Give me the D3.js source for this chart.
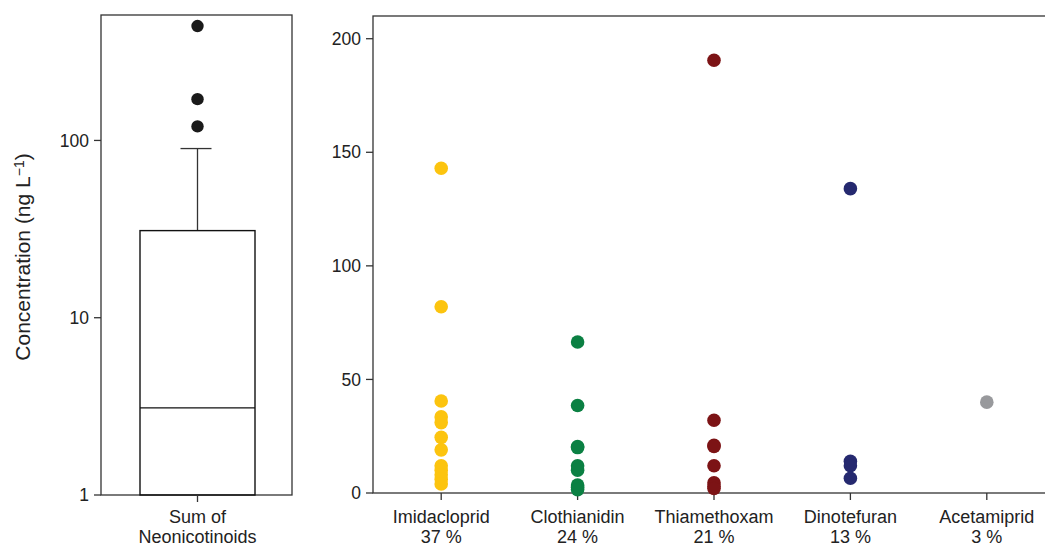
<!DOCTYPE html>
<html>
<head>
<meta charset="utf-8">
<script src="https://cdn.jsdelivr.net/npm/d3@7"></script>
<style>
  body { margin: 0; background: #fff; }
  text { font-family: "Liberation Sans", Arial, sans-serif; fill: #222; }
</style>
</head>
<body>
<script>
// boxplot of summed neonicotinoids (log scale)
const boxStats = {q1: 1, median: 3.1, q3: 31, whiskerHigh: 90};
const boxOutliers = [442, 171, 120];
const logTicks = [1, 10, 100];

// individual compounds
const compounds = ['Imidacloprid', 'Clothianidin', 'Thiamethoxam', 'Dinotefuran', 'Acetamiprid'];
const detectPct = ['37 %', '24 %', '21 %', '13 %', '3 %'];
const colours = ['#fcc40f', '#0b8043', '#7c1315', '#25296f', '#98999c'];
const imidacloprid = [143, 82, 40.5, 33.5, 31, 24.5, 19, 12, 10, 8, 6, 4];
const clothianidin = [66.5, 38.5, 20.5, 20, 12, 10, 3.5, 2.5, 1.5];
const thiamethoxam = [190.5, 32, 21, 20.5, 12, 4.5, 3, 2];
const dinotefuran = [134, 14, 12, 6.5];
const acetamiprid = [40];
const linTicks = [0, 50, 100, 150, 200];

const W = 1045, H = 546;
const svg = d3.select('body').append('svg').attr('width', W).attr('height', H);
const axisCol = '#333';
const tickFont = '17.5px', catFont = '18px';

// ---- left panel ----
const L = {x0: 101, x1: 292, y0: 15, y1: 495};
const yLog = d3.scaleLog().domain([1, 510]).range([L.y1, L.y0]);
const left = svg.append('g');
left.append('rect').attr('x', L.x0).attr('y', L.y0).attr('width', L.x1 - L.x0).attr('height', L.y1 - L.y0)
    .attr('fill', 'none').attr('stroke', axisCol).attr('stroke-width', 1.3);

left.selectAll('line.yt').data(logTicks).enter().append('line')
    .attr('x1', L.x0 - 7).attr('x2', L.x0)
    .attr('y1', d => yLog(d)).attr('y2', d => yLog(d))
    .attr('stroke', axisCol).attr('stroke-width', 1.3);
left.selectAll('text.yt').data(logTicks).enter().append('text')
    .attr('x', L.x0 - 12).attr('y', d => yLog(d)).attr('dy', '0.35em')
    .attr('text-anchor', 'end').style('font-size', tickFont).text(d => d);

const cx = (L.x0 + L.x1) / 2 + 1;
const bw = 115;
left.append('line').attr('x1', cx).attr('x2', cx).attr('y1', yLog(boxStats.q3)).attr('y2', yLog(boxStats.whiskerHigh))
    .attr('stroke', axisCol).attr('stroke-width', 1.3);
left.append('line').attr('x1', cx - 17).attr('x2', cx + 14).attr('y1', yLog(boxStats.whiskerHigh)).attr('y2', yLog(boxStats.whiskerHigh))
    .attr('stroke', axisCol).attr('stroke-width', 1.3);
left.append('rect').attr('x', cx - bw / 2).attr('width', bw)
    .attr('y', yLog(boxStats.q3)).attr('height', yLog(boxStats.q1) - yLog(boxStats.q3))
    .attr('fill', 'none').attr('stroke', '#111').attr('stroke-width', 1.4);
left.append('line').attr('x1', cx - bw / 2).attr('x2', cx + bw / 2)
    .attr('y1', yLog(boxStats.median)).attr('y2', yLog(boxStats.median))
    .attr('stroke', '#111').attr('stroke-width', 1.3);
left.selectAll('circle').data(boxOutliers).enter().append('circle')
    .attr('cx', cx).attr('cy', d => yLog(d)).attr('r', 6.2).attr('fill', '#1a1a1a');

left.append('line').attr('x1', cx).attr('x2', cx).attr('y1', L.y1).attr('y2', L.y1 + 7)
    .attr('stroke', axisCol).attr('stroke-width', 1.3);
const lt = left.append('text').attr('text-anchor', 'middle').style('font-size', catFont);
lt.append('tspan').attr('x', cx).attr('y', 523).text('Sum of');
lt.append('tspan').attr('x', cx).attr('y', 543).text('Neonicotinoids');

const yl = svg.append('text').attr('transform', `translate(30,${(L.y0 + L.y1) / 2 + 2}) rotate(-90)`)
    .attr('text-anchor', 'middle').style('font-size', '21px');
yl.append('tspan').text('Concentration (ng L');
yl.append('tspan').attr('dy', '-0.45em').style('font-size', '14px').text('\u22121');
yl.append('tspan').attr('dy', '0.3em').text(')');

// ---- right panel ----
const R = {x0: 373, x1: 1055, y0: 16, y1: 493};
const y = d3.scaleLinear().domain([0, 210]).range([R.y1, R.y0]);
const x = d3.scalePoint().domain(compounds).range([R.x0, R.x1]).padding(0.5);
const right = svg.append('g');
right.append('rect').attr('x', R.x0).attr('y', R.y0).attr('width', R.x1 - R.x0).attr('height', R.y1 - R.y0)
    .attr('fill', 'none').attr('stroke', axisCol).attr('stroke-width', 1.3);

right.selectAll('line.yt').data(linTicks).enter().append('line')
    .attr('x1', R.x0 - 7).attr('x2', R.x0)
    .attr('y1', d => y(d)).attr('y2', d => y(d))
    .attr('stroke', axisCol).attr('stroke-width', 1.3);
right.selectAll('text.yt').data(linTicks).enter().append('text')
    .attr('x', R.x0 - 12).attr('y', d => y(d)).attr('dy', '0.35em')
    .attr('text-anchor', 'end').style('font-size', tickFont).text(d => d);

right.selectAll('line.xt').data(compounds).enter().append('line')
    .attr('x1', d => x(d)).attr('x2', d => x(d)).attr('y1', R.y1).attr('y2', R.y1 + 7)
    .attr('stroke', axisCol).attr('stroke-width', 1.3);
compounds.forEach((c, i) => {
    const t = right.append('text').attr('text-anchor', 'middle').style('font-size', catFont);
    t.append('tspan').attr('x', x(c)).attr('y', 523).text(c);
    t.append('tspan').attr('x', x(c)).attr('y', 543).text(detectPct[i]);
});

const series = [imidacloprid, clothianidin, thiamethoxam, dinotefuran, acetamiprid];
series.forEach((vals, i) => {
    right.append('g').selectAll('circle').data(vals).enter().append('circle')
        .attr('cx', x(compounds[i])).attr('cy', d => y(d)).attr('r', 6.8)
        .attr('fill', colours[i]);
});
</script>
</body>
</html>
